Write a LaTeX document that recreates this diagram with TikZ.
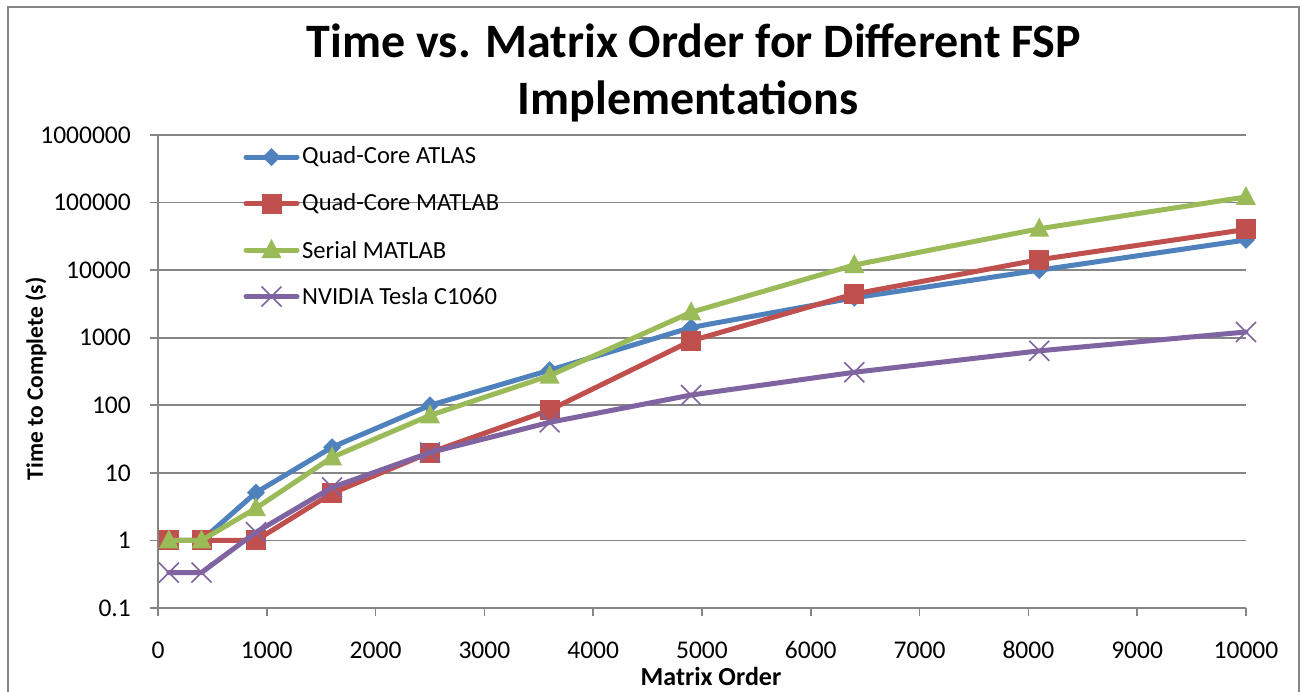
\documentclass[tikz,border=0pt]{standalone}
\usepackage{fontspec}
\setmainfont{Carlito}
\usetikzlibrary{calc}
\begin{document}
\begin{tikzpicture}[x=1pt,y=-1pt,
  serie/.style={line width=5pt,line join=round,line cap=round},
  ticklab/.style={font=\fontsize{25.5}{27}\selectfont,inner sep=0pt},
  titlelab/.style={font=\fontsize{48}{52}\selectfont\bfseries,inner sep=0pt,anchor=base},
  axtitle/.style={font=\fontsize{#1}{28}\selectfont\bfseries,inner sep=0pt},
  leglab/.style={font=\fontsize{24.6}{27}\selectfont,anchor=west,inner sep=0pt}]
\definecolor{cblue}{HTML}{4F81BD}
\definecolor{cred}{HTML}{C0504D}
\definecolor{cgreen}{HTML}{9BBB59}
\definecolor{cpurple}{HTML}{8064A2}
\definecolor{cgrid}{HTML}{868686}
\useasboundingbox (0,0) rectangle (1301,691);
\fill[white] (0,0) rectangle (1301,691);
% outer chart frame
\draw[draw=cgrid,line width=2pt] (8,7) rectangle (1299,720);
% marker pics
\tikzset{
  mdiam/.pic={\fill[cblue] (0,-9) -- (9,0) -- (0,9) -- (-9,0) -- cycle;},
  msq/.pic={\fill[cred] (-10,-10) rectangle (10,10);},
  mtri/.pic={\fill[cgreen] (0,-11) -- (10,8) -- (-10,8) -- cycle;},
  mx/.pic={\draw[cpurple,line width=1.6pt] (-10,-10) -- (10,10) (-10,10) -- (10,-10);}
}
% title
\node[titlelab] (title1) at (694,57) {Time vs. Matrix Order for Different FSP};
\node[titlelab] (title2) at (688,114) {Implementations};
% horizontal grid lines (decades 0.1 ... 1e6)
\foreach \lab [count=\i from 0] in {0.1,1,10,100,1000,10000,100000,1000000}{
  \pgfmathsetmacro\yy{608-\i*67.57}
  \draw[draw=cgrid,line width=1.6pt] (150,\yy) -- (1246,\yy);
  \node[ticklab,anchor=east] (yl\i) at (131,\yy) {\lab};
}
% y axis
\draw[draw=cgrid,line width=1.6pt] (158,135.4) -- (158,608);
% x ticks and labels
\foreach \v [count=\i from 0] in {0,1000,...,10000}{
  \pgfmathsetmacro\xx{158+\v*0.1088}
  \draw[draw=cgrid,line width=1.6pt] (\xx,608) -- (\xx,616);
  \node[ticklab] (xl\i) at (\xx,650) {\v};
}
% axis titles
\node[axtitle=26] (xt) at (711,676) {Matrix Order};
\node[axtitle=23.5,rotate=90] (yt) at (36,379) {Time to Complete (s)};
% data series: matrix order / log10(time)
\newcommand\series[4]{%
  \foreach \xv/\lv [count=\k] in {#1}{
    \coordinate (#2\k) at ({158+\xv*0.1088},{608-(\lv+1)*67.57});
  }
  \draw[serie,#3] (#21) foreach \k in {2,...,10}{ -- (#2\k)};
  \foreach \k in {1,...,10}{ \pic at (#2\k) {#4}; }
}
\series{100/0,400/0,900/0.708,1600/1.380,2500/2,3600/2.519,4900/3.152,6400/3.591,8100/4,10000/4.447}{atl}{cblue}{mdiam}
\series{100/0,400/0,900/0,1600/0.699,2500/1.301,3600/1.929,4900/2.954,6400/3.648,8100/4.155,10000/4.602}{qml}{cred}{msq}
\series{100/0,400/0,900/0.477,1600/1.230,2500/1.851,3600/2.439,4900/3.377,6400/4.076,8100/4.613,10000/5.083}{sml}{cgreen}{mtri}
\series{100/-0.475,400/-0.475,900/0.121,1600/0.785,2500/1.301,3600/1.748,4900/2.152,6400/2.489,8100/2.806,10000/3.085}{gpu}{cpurple}{mx}
% legend
\foreach \lab/\c/\m [count=\i from 0] in {Quad-Core ATLAS/cblue/mdiam,Quad-Core MATLAB/cred/msq,Serial MATLAB/cgreen/mtri,NVIDIA Tesla C1060/cpurple/mx}{
  \pgfmathsetmacro\yy{157+\i*46.5}
  \coordinate (lga\i) at (246,\yy);
  \coordinate (lgb\i) at (297,\yy);
  \draw[serie,\c] (lga\i) -- (lgb\i);
  \pic at ($(lga\i)!0.5!(lgb\i)$) {\m};
  \node[leglab] (lg\i) at (302,\yy) {\lab};
}
\end{tikzpicture}
\end{document}
